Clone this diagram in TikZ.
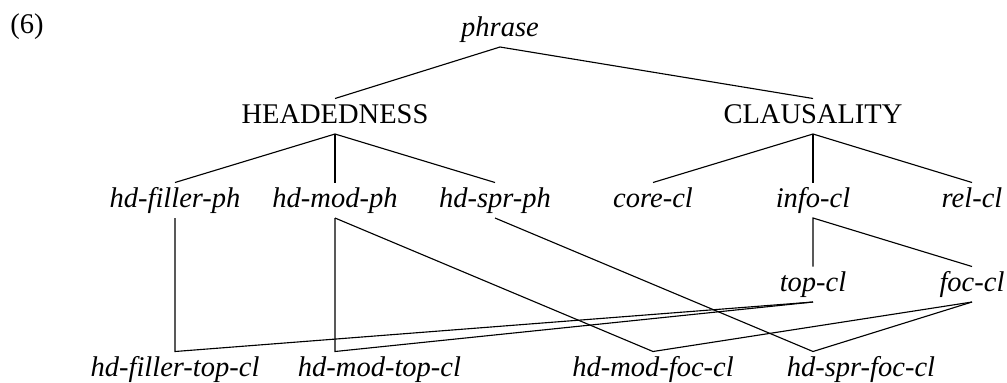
\documentclass[tikz,border=0pt]{standalone}
\usepackage{fontspec}
\setmainfont{Liberation Serif}
\usetikzlibrary{positioning}
\tikzset{
  lbl/.style={anchor=base, inner xsep=2pt, inner ysep=1.6pt, text height=8pt,
    text depth=2.6pt, font=\fontsize{11.4}{13}\selectfont},
  typ/.style={lbl, font=\fontsize{11.4}{13}\selectfont\itshape},
  dimen/.style={lbl},
  lnk/.style={draw=black, line width=0.45pt}
}
\begin{document}
\begin{tikzpicture}[x=0.4pt, y=-0.4pt]
  \useasboundingbox (0,0) rectangle (1007,382);
  \node[lbl, anchor=base west, inner sep=0pt] (exnum) at (10,33) {(6)};
  \node[typ] (phrase) at (500,36) {phrase};

  \node[dimen] (headedness) at (335,123) {HEADEDNESS};
  \node[dimen] (clausality) at (813,123) {CLAUSALITY};

  \node[typ] (hdfillerph) at (175,207) {hd-filler-ph};
  \node[typ] (hdmodph) at (335,207) {hd-mod-ph};
  \node[typ] (hdsprph) at (495,207) {hd-spr-ph};
  \node[typ] (corecl) at (653,207) {core-cl};
  \node[typ] (infocl) at (813,207) {info-cl};
  \node[typ] (relcl) at (972,207) {rel-cl};

  \node[typ] (topcl) at (813,291) {top-cl};
  \node[typ] (foccl) at (972,291) {foc-cl};

  \node[typ] (hdfillertopcl) at (175,376) {hd-filler-top-cl};
  \node[typ] (hdmodtopcl) at (379.5,376) {hd-mod-top-cl};
  \node[typ] (hdmodfoccl) at (653,376) {hd-mod-foc-cl};
  \node[typ] (hdsprfoccl) at (861,376) {hd-spr-foc-cl};

  % upper part of the hierarchy
  \draw[lnk] (headedness.north) -- (phrase.south) -- (clausality.north);
  \draw[lnk] (hdfillerph.north) -- (headedness.south) -- (hdsprph.north);
  \draw[lnk] (headedness.south) -- (hdmodph.north);
  \draw[lnk] (corecl.north) -- (clausality.south) -- (relcl.north);
  \draw[lnk] (clausality.south) -- (infocl.north);
  \draw[lnk] (topcl.north) -- (infocl.south) -- (foccl.north);

  % cross-classified subtypes
  \draw[lnk] (hdfillerph.south) -- (hdfillertopcl.north) -- (topcl.south);
  \draw[lnk] (hdmodph.south) -- (hdmodph.south |- hdmodtopcl.north) -- (topcl.south);
  \draw[lnk] (hdmodph.south) -- (hdmodfoccl.north) -- (foccl.south);
  \draw[lnk] (hdsprph.south) -- (topcl.south |- hdsprfoccl.north) -- (foccl.south);
\end{tikzpicture}
\end{document}
